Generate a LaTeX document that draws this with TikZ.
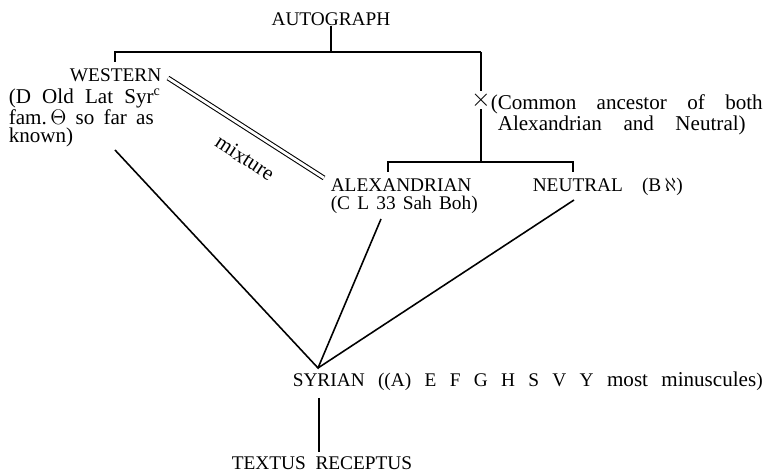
\documentclass[tikz,border=0pt]{standalone}
\usepackage{fontspec}
\setmainfont{Liberation Serif}
\usepackage{tikz}
\newcommand{\spread}[2]{\makebox[#1][s]{#2}}
\newcommand{\lowsize}{\fontsize{12}{10.2}\selectfont}

\begin{document}
\begin{tikzpicture}[x=0.02cm,y=-0.02cm,line width=0.9pt,
		every node/.style={inner sep=0pt,font=\fontsize{11}{10.2}\selectfont}]
			\useasboundingbox (0,0) rectangle (769,473);
			\node (auto) at (331,19) {AUTOGRAPH};
			\coordinate (top) at (331,52);
			\coordinate (wtop) at (115,52);
			\coordinate (wtick) at (115,62);
			\coordinate (etop) at (481,52);
			\draw (auto) -- (top);
			\draw (wtick) -- (wtop) -- (etop);
			
			\node[anchor=east] (west) at (162,75) {WESTERN};
			\node[anchor=north west,align=left,font=\lowsize] (westtxt) at (8,88) {\spread{3.04cm}{(D Old Lat Syr\textsuperscript{c}}\\
				\spread{2.9cm}{fam.\,$\Theta$ so far as}\\known)};
			\coordinate (wfoot) at (115,150);
			
			\node (cross) at (481,100) {\Large$\times$};
			\draw (etop) -- (cross.north);
			\node[anchor=west,align=left,font=\lowsize] (common) at (490,115) {\spread{5.44cm}{(Common ancestor of both}\\
				\hspace{0.14cm}\spread{4.96cm}{Alexandrian and Neutral)}};
			\coordinate (split) at (481,162);
			\coordinate (atop) at (388,162);
			\coordinate (atick) at (388,172);
			\coordinate (ntop) at (573,162);
			\coordinate (ntick) at (573,172);
			\draw (cross.south) -- (split);
			\draw (atick) -- (atop) -- (ntop) -- (ntick);
			
			\node[anchor=north west,align=left] (alex) at (330,178) {ALEXANDRIAN\\\spread{2.94cm}{(C L 33 Sah Boh)}};
			\node[anchor=west] (neut) at (532,187) {\spread{3.0cm}{NEUTRAL \ (B\,$\aleph$)}};
			\coordinate (afoot) at (381,219);
			\coordinate (nfoot) at (574,200);
			
			\coordinate (mixa) at (168,78);
			\coordinate (mixb) at (324,178);
			\draw[double,double distance=1.6pt,line width=0.6pt] (mixa) -- (mixb);
			\node[rotate=-33,font=\lowsize] (mix) at (245,158) {mixture};
			
			\coordinate (apex) at (318,368);
			\draw (wfoot) -- (apex) -- (afoot);
			\draw (apex) -- (nfoot);
			
			\node[anchor=west] (syr) at (292,381) {\spread{9.4cm}{SYRIAN ((A) E F G H S V Y {\lowsize most} {\lowsize minuscules})}};
			\coordinate (sfoot) at (319,398);
			\coordinate (tnext) at (319,452);
			\draw (sfoot) -- (tnext);
			\node (tr) at (322,463) {TEXTUS\ \ RECEPTUS};
		\end{tikzpicture}
\end{document}
